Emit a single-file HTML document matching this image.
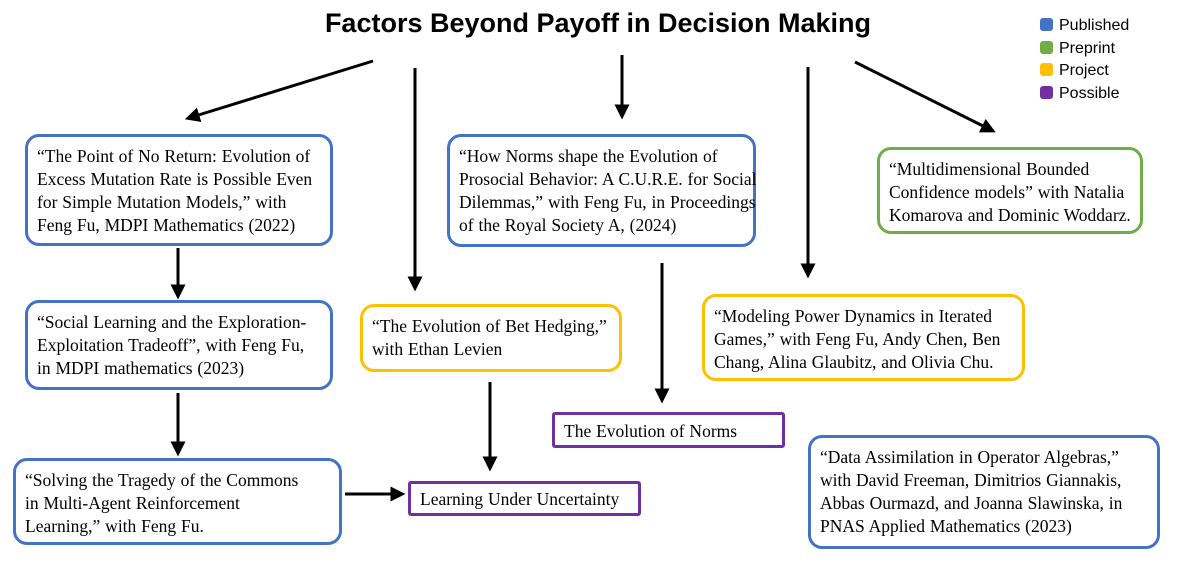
<!DOCTYPE html>
<html><head><style>
body{margin:0;width:1178px;height:565px;background:#fff;position:relative;overflow:hidden;font-family:"Liberation Serif",serif;}
.b{position:absolute;box-sizing:border-box;border:3px solid;border-radius:14px;background:#fff;font-size:17.5px;word-spacing:0.5px;line-height:23px;padding:8px 0 0 9px;color:#000;white-space:nowrap}
.bl{border-color:#4472C4}.gr{border-color:#70AD47}.ye{border-color:#FFC000}.pu{border-color:#7030A0;border-radius:3px}
.t{position:absolute;left:0;width:1196px;text-align:center;top:8px;font:bold 27px "Liberation Sans",sans-serif}
.lg{position:absolute;left:1040px;font:16px "Liberation Sans",sans-serif}
.lg span{display:inline-block;width:13px;height:13px;border-radius:3px;margin-right:6px;vertical-align:-1px}
svg{position:absolute;left:0;top:0}
</style></head><body>
<div class="t">Factors Beyond Payoff in Decision Making</div>
<div class="lg" style="top:17px"><span style="background:#4472C4"></span>Published</div>
<div class="lg" style="top:40px"><span style="background:#70AD47"></span>Preprint</div>
<div class="lg" style="top:62px"><span style="background:#FFC000"></span>Project</div>
<div class="lg" style="top:85px"><span style="background:#7030A0"></span>Possible</div>
<svg width="1178" height="565"><defs><marker id="a" markerWidth="5" markerHeight="5" refX="2.5" refY="2.5" orient="auto" markerUnits="strokeWidth"><path d="M0,0L5,2.5L0,5z" fill="#000"/></marker></defs>
<g stroke="#000" stroke-width="3" marker-end="url(#a)">
<line x1="373" y1="61" x2="192" y2="117"/>
<line x1="415" y1="68" x2="415" y2="284"/>
<line x1="622" y1="55" x2="622" y2="112"/>
<line x1="808" y1="67" x2="808" y2="271"/>
<line x1="855" y1="62" x2="989" y2="129"/>
<line x1="178" y1="248" x2="178" y2="292"/>
<line x1="178" y1="393" x2="178" y2="449"/>
<line x1="662" y1="263" x2="662" y2="396"/>
<line x1="490" y1="382" x2="490" y2="464"/>
<line x1="345" y1="494" x2="398" y2="494"/>
</g></svg>
<div class="b bl" style="left:25px;top:134px;width:308px;height:112px">“The Point of No Return: Evolution of<br>Excess Mutation Rate is Possible Even<br>for Simple Mutation Models,” with<br>Feng Fu, MDPI Mathematics (2022)</div>
<div class="b bl" style="left:25px;top:300px;width:308px;height:90px">“Social Learning and the Exploration-<br>Exploitation Tradeoff”, with Feng Fu,<br>in MDPI mathematics (2023)</div>
<div class="b bl" style="left:13px;top:458px;width:329px;height:87px">“Solving the Tragedy of the Commons<br>in Multi-Agent Reinforcement<br>Learning,” with Feng Fu.</div>
<div class="b ye" style="left:360px;top:304px;width:262px;height:68px">“The Evolution of Bet Hedging,”<br>with Ethan Levien</div>
<div class="b pu" style="left:408px;top:481px;width:233px;height:35px;padding-top:4px">Learning Under Uncertainty</div>
<div class="b bl" style="left:447px;top:134px;width:309px;height:113px">“How Norms shape the Evolution of<br>Prosocial Behavior: A C.U.R.E. for Social<br>Dilemmas,” with Feng Fu, in Proceedings<br>of the Royal Society A, (2024)</div>
<div class="b pu" style="left:552px;top:412px;width:233px;height:36px;padding-top:5px">The Evolution of Norms</div>
<div class="b gr" style="left:877px;top:147px;width:266px;height:87px">“Multidimensional Bounded<br>Confidence models” with Natalia<br>Komarova and Dominic Woddarz.</div>
<div class="b ye" style="left:702px;top:294px;width:323px;height:87px">“Modeling Power Dynamics in Iterated<br>Games,” with Feng Fu, Andy Chen, Ben<br>Chang, Alina Glaubitz, and Olivia Chu.</div>
<div class="b bl" style="left:808px;top:435px;width:352px;height:114px">“Data Assimilation in Operator Algebras,”<br>with David Freeman, Dimitrios Giannakis,<br>Abbas Ourmazd, and Joanna Slawinska, in<br>PNAS Applied Mathematics (2023)</div>
</body></html>
